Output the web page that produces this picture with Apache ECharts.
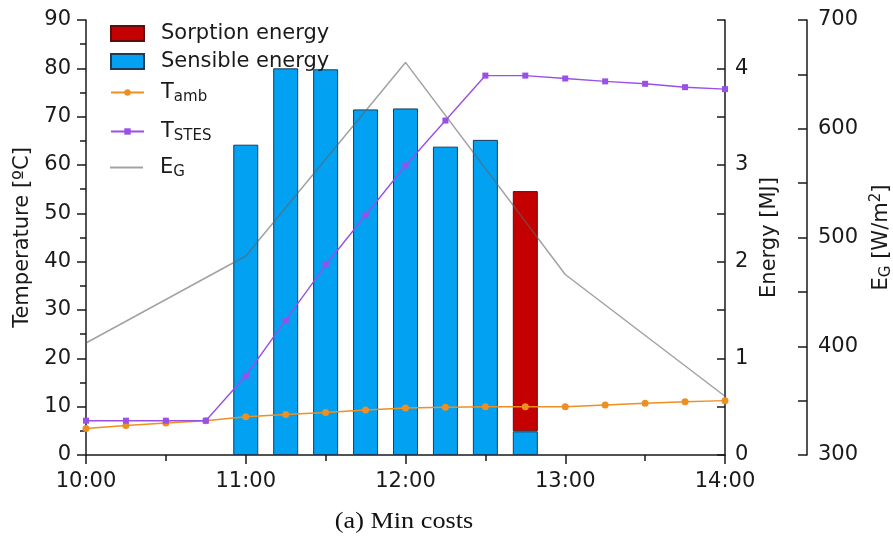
<!DOCTYPE html>
<html>
<head>
<meta charset="utf-8">
<script src="https://cdn.jsdelivr.net/npm/echarts@6/dist/echarts.min.js"></script>
<style>
  html, body { margin: 0; padding: 0; background: #ffffff; overflow: hidden; }
  #chart { width: 893px; height: 540px; }
</style>
</head>
<body>
<div id="chart"></div>
<script>
// Time of day in minutes after midnight (15-minute steps, 10:00 to 14:00)
const stepTimes = [600, 615, 630, 645, 660, 675, 690, 705, 720, 735, 750, 765, 780, 795, 810, 825, 840];
// Ambient temperature [ºC]
const tAmb = [5.5, 6.1, 6.6, 7.1, 7.9, 8.4, 8.8, 9.3, 9.7, 9.9, 10.0, 10.0, 10.0, 10.35, 10.7, 11.0, 11.25];
// Storage temperature [ºC]
const tStes = [7.1, 7.1, 7.1, 7.1, 16.4, 27.9, 39.3, 49.6, 59.9, 69.2, 78.5, 78.5, 77.9, 77.3, 76.8, 76.1, 75.7];

// Global irradiance [W/m2], hourly
const egTimes = [600, 660, 720, 780, 840];
const egValues = [403, 483, 661, 466, 354];

// Stored energy per 15-minute interval [MJ]
const barTimes = [660, 675, 690, 705, 720, 735, 750, 765];
const sensibleEnergy = [3.21, 4.0, 3.99, 3.575, 3.585, 3.19, 3.26, 0.245];
const sorptionEnergy = [null, null, null, null, null, null, null, 2.485];

const FONT = '"DejaVu Sans", "Liberation Sans", Arial, sans-serif';
const AXIS_COLOR = '#1a1a1a';
const TEXT_COLOR = '#1a1a1a';
const FS = 21;

const clock = m => (m / 60 | 0) + ':' + String(m % 60).padStart(2, '0');
const pairs = (xs, ys) => xs.map((x, i) => [x, ys[i]]);
const catPairs = (xs, ys) => xs.map((x, i) => [clock(x), ys[i]]);

const richText = {
  b: { fontSize: FS, fontFamily: FONT, color: TEXT_COLOR },
  s: { fontSize: 15, fontFamily: FONT, color: TEXT_COLOR, padding: [10, 0, 0, 0] },
  p: { fontSize: 15, fontFamily: FONT, color: TEXT_COLOR, padding: [0, 0, 10, 0] }
};

const legendLabels = {
  'Sorption energy': '{b|Sorption energy}',
  'Sensible energy': '{b|Sensible energy}',
  'T_amb': '{b|T}{s|amb}',
  'T_STES': '{b|T}{s|STES}',
  'E_G': '{b|E}{s|G}'
};

function legendAt(item, top, itemHeight) {
  return {
    data: [item],
    left: 110,
    top: top,
    padding: 0,
    itemWidth: 33,
    itemHeight: itemHeight,
    formatter: n => legendLabels[n],
    textStyle: {
      fontSize: FS, fontFamily: FONT, color: TEXT_COLOR,
      padding: [0, 0, 0, 12],
      rich: richText
    }
  };
}

const hourLabel = v => (v % 60 === 0 ? clock(v) : '');

const chart = echarts.init(document.getElementById('chart'), null, { renderer: 'canvas' });

chart.setOption({
  animation: false,
  backgroundColor: '#ffffff',
  grid: { left: 86, right: 168, top: 20, bottom: 85, containLabel: false, outerBoundsMode: 'none' },
  legend: [
    legendAt({ name: 'Sorption energy', icon: 'rect' }, 23, 15),
    legendAt({ name: 'Sensible energy', icon: 'rect' }, 51, 15),
    legendAt('T_amb', 82, 8),
    legendAt('T_STES', 121, 8),
    legendAt({ name: 'E_G', icon: 'rect', itemStyle: { color: '#a3a3a3' } }, 157, 2)
  ],
  xAxis: [
    {
      type: 'value',
      min: 600, max: 840, interval: 60,
      axisLine: { show: true, lineStyle: { color: AXIS_COLOR, width: 1.5 } },
      axisTick: { show: true, inside: false, length: 9, lineStyle: { color: AXIS_COLOR, width: 1.5 } },
      minorTick: { show: true, splitNumber: 2, length: 6, lineStyle: { color: AXIS_COLOR, width: 1.5 } },
      splitLine: { show: false },
      axisLabel: { formatter: hourLabel, fontSize: FS, fontFamily: FONT, color: TEXT_COLOR, margin: 16 }
    },
    {
      // positional axis for the stacked energy bars, aligned with the time axis
      type: 'category', show: false, boundaryGap: false,
      data: stepTimes.map(clock)
    }
  ],
  yAxis: [
    {
      type: 'value', position: 'left',
      min: 0, max: 90, interval: 10,
      name: 'Temperature [ºC]', nameLocation: 'middle', nameGap: 52, nameRotate: 90,
      nameTextStyle: { fontSize: FS, fontFamily: FONT, color: TEXT_COLOR },
      axisLine: { show: true, lineStyle: { color: AXIS_COLOR, width: 1.5 } },
      axisTick: { show: true, inside: false, length: 9, lineStyle: { color: AXIS_COLOR, width: 1.5 } },
      minorTick: { show: true, splitNumber: 2, length: 6, lineStyle: { color: AXIS_COLOR, width: 1.5 } },
      splitLine: { show: false },
      axisLabel: { fontSize: FS, fontFamily: FONT, color: TEXT_COLOR, margin: 15 }
    },
    {
      type: 'value', position: 'right', offset: 0,
      min: 0, max: 4.5, interval: 0.5,
      name: 'Energy [MJ]', nameLocation: 'middle', nameGap: 33, nameRotate: 90,
      nameTextStyle: { fontSize: FS, fontFamily: FONT, color: TEXT_COLOR },
      axisLine: { show: true, lineStyle: { color: AXIS_COLOR, width: 1.5 } },
      axisTick: { show: true, inside: true, length: 8, lineStyle: { color: AXIS_COLOR, width: 1.5 } },
      splitLine: { show: false },
      axisLabel: {
        formatter: v => (Number.isInteger(v) ? String(v) : ''),
        fontSize: FS, fontFamily: FONT, color: TEXT_COLOR, margin: 10
      }
    },
    {
      type: 'value', position: 'right', offset: 82,
      min: 300, max: 700, interval: 100,
      name: '{b|E}{s|G}{b| [W/m}{p|2}{b|]}', nameLocation: 'middle', nameGap: 60, nameRotate: 90,
      nameTextStyle: { fontSize: FS, fontFamily: FONT, color: TEXT_COLOR, rich: richText },
      axisLine: { show: true, lineStyle: { color: AXIS_COLOR, width: 1.5 } },
      axisTick: { show: true, inside: true, length: 9, lineStyle: { color: AXIS_COLOR, width: 1.5 } },
      minorTick: { show: true, splitNumber: 2, length: 9, lineStyle: { color: AXIS_COLOR, width: 1.5 } },
      splitLine: { show: false },
      axisLabel: { fontSize: FS, fontFamily: FONT, color: TEXT_COLOR, margin: 11 }
    }
  ],
  series: [
    {
      name: 'Sensible energy', type: 'bar', xAxisIndex: 1, yAxisIndex: 1, stack: 'energy',
      barWidth: 25,
      data: catPairs(barTimes, sensibleEnergy),
      itemStyle: { color: '#03a1f1', borderColor: '#1f3b57', borderWidth: 1 },
      z: 2
    },
    {
      name: 'Sorption energy', type: 'bar', xAxisIndex: 1, yAxisIndex: 1, stack: 'energy',
      barWidth: 25,
      data: catPairs(barTimes, sorptionEnergy),
      itemStyle: { color: '#c40000', borderColor: '#5a1010', borderWidth: 1 },
      z: 2
    },
    {
      name: 'T_amb', type: 'line', xAxisIndex: 0, yAxisIndex: 0,
      data: pairs(stepTimes, tAmb),
      symbol: 'circle', symbolSize: 7,
      lineStyle: { color: '#ee8f22', width: 1.5 },
      itemStyle: { color: '#ee8f22' },
      z: 4
    },
    {
      name: 'T_STES', type: 'line', xAxisIndex: 0, yAxisIndex: 0,
      data: pairs(stepTimes, tStes),
      symbol: 'rect', symbolSize: 6,
      lineStyle: { color: '#9a4fe6', width: 1.4 },
      itemStyle: { color: '#9a4fe6' },
      z: 5
    },
    {
      name: 'E_G', type: 'line', xAxisIndex: 0, yAxisIndex: 2,
      data: pairs(egTimes, egValues),
      symbol: 'none',
      lineStyle: { color: 'rgba(100,100,100,0.6)', width: 1.5 },
      itemStyle: { color: '#a3a3a3' },
      z: 3
    }
  ],
  graphic: [
    {
      type: 'text', x: 404, y: 522, scaleX: 1.14,
      style: {
        text: '(a) Min costs',
        font: '23px "Liberation Serif", "Times New Roman", serif',
        fill: '#111', align: 'center', verticalAlign: 'middle'
      }
    }
  ]
});
</script>
</body>
</html>
